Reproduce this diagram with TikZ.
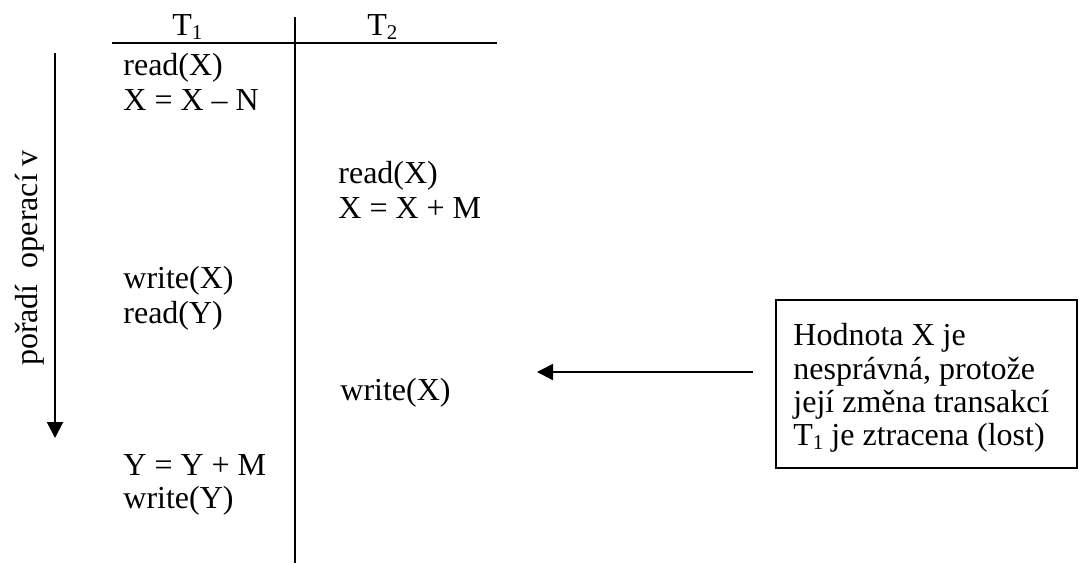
\documentclass[tikz,border=0pt]{standalone}
\usepackage{fontspec}
\setmainfont{Liberation Serif}
\usetikzlibrary{arrows.meta}
\newcommand{\fs}{\fontsize{16}{17.5}\selectfont}
\newcommand{\sub}[1]{\raisebox{-0.15em}{\fontsize{10.5}{12}\selectfont #1}}
\tikzset{
  txt/.style={anchor=base west, inner sep=0pt, font=\fs},
  rule/.style={line width=1pt},
  arr/.style={line width=1pt, -{Triangle[length=8pt,width=8pt]}},
  note/.style={draw, line width=0.8pt}
}
\begin{document}
\begin{tikzpicture}[x=0.5pt,y=-0.5pt]
\useasboundingbox (0,0) rectangle (1079,564);
% table rules
\coordinate (hl) at (112,43);
\coordinate (hr) at (497,43);
\coordinate (vt) at (295,17);
\coordinate (vb) at (295,563);
\draw[rule] (hl) -- (hr);
\draw[rule] (vt) -- (vb);
% headers
\node[txt] (t1) at (172,35) {T\sub{1}};
\node[txt] (t2) at (367,35) {T\sub{2}};
% T1 column
\node[txt] (a1) at (123,75) {read(X)};
\node[txt] (a2) at (123,110) {X = X – N};
\node[txt] (a3) at (123,288) {write(X)};
\node[txt] (a4) at (123,323) {read(Y)};
\node[txt] (a5) at (123,475) {Y = Y + M};
\node[txt] (a6) at (123,508) {write(Y)};
% T2 column
\node[txt] (b1) at (338,183) {read(X)};
\node[txt] (b2) at (338,218) {X = X + M};
\node[txt] (b3) at (340,400) {write(X)};
% time arrow
\coordinate (ta) at (55,53);
\coordinate (tb) at (55,438);
\draw[arr] (ta) -- (tb);
\node[inner sep=0pt, font=\fs, rotate=90] (lab) at (30,258) {pořadí\ \ operací v};
% note box
\draw[note] (776,300) rectangle (1077,468);
\node[txt] (n1) at (793,345) {Hodnota X je};
\node[txt] (n2) at (793,379) {nesprávná, protože};
\node[txt] (n3) at (793,412) {její změna transakcí};
\node[txt] (n4) at (793,445) {T\sub{1} je ztracena (lost)};
% pointer arrow
\coordinate (pa) at (753,372);
\coordinate (pb) at (537,372);
\draw[arr] (pa) -- (pb);
\end{tikzpicture}
\end{document}
